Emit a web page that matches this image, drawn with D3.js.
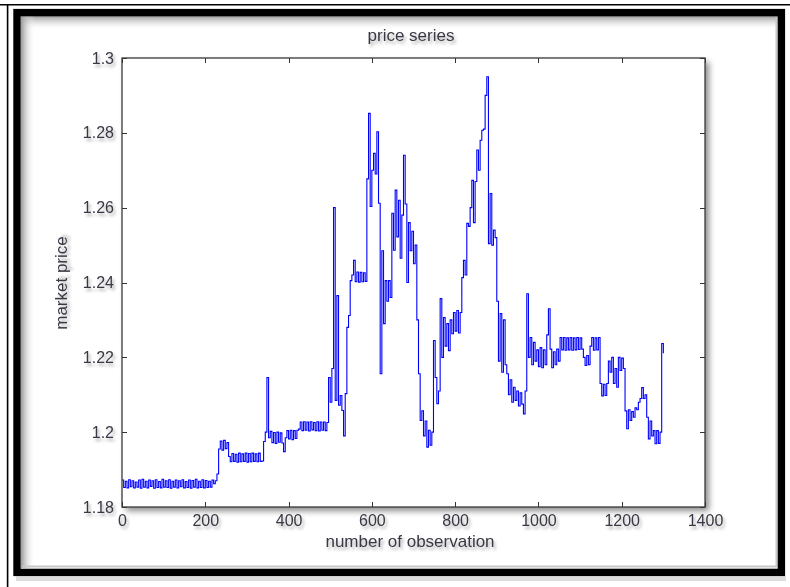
<!DOCTYPE html>
<html>
<head>
<meta charset="utf-8">
<script src="https://cdn.jsdelivr.net/npm/d3@7/dist/d3.min.js"></script>
<style>
    body { margin: 0; background: #fff; }
    .chart text { font-family: "Liberation Sans", Arial, sans-serif; fill: #3a3844; }
    .axis line { stroke: #333; shape-rendering: crispEdges; }
    .axis path { display: none; }
</style>
</head>
<body>
<svg class="chart"></svg>
<script>
    var title = "price series";
    var xLabel = "number of observation";
    var yLabel = "market price";
    var xTicks = [0, 200, 400, 600, 800, 1000, 1200, 1400];
    var yTicks = [1.18, 1.2, 1.22, 1.24, 1.26, 1.28, 1.3];
    var obsStep = 4; // one value every 4 observations

    // market price, obs 0..1300
    var price = [
        1.1872,1.1852,1.1869,1.1851,1.1873,1.1854,1.1870,1.1851,1.1867,1.1853,
        1.1872,1.1850,1.1874,1.1853,1.1869,1.1851,1.1872,1.1855,1.1870,1.1850,
        1.1873,1.1852,1.1868,1.1851,1.1874,1.1853,1.1870,1.1852,1.1873,1.1850,
        1.1869,1.1853,1.1872,1.1851,1.1870,1.1854,1.1873,1.1851,1.1868,1.1852,
        1.1872,1.1850,1.1871,1.1853,1.1874,1.1851,1.1869,1.1852,1.1873,1.1851,
        1.1871,1.1852,1.1869,1.1853,1.1872,1.1862,1.1870,1.1888,1.1955,1.1976,
        1.1952,1.1978,1.1956,1.1972,1.1935,1.1921,1.1943,1.1922,1.1941,1.1920,
        1.1944,1.1921,1.1942,1.1922,1.1944,1.1920,1.1943,1.1921,1.1944,1.1922,
        1.1942,1.1921,1.1944,1.1922,1.1923,1.1975,1.2000,1.2146,1.1985,1.2002,
        1.1972,1.1999,1.1970,1.2000,1.1973,1.1998,1.1971,1.1948,1.1985,1.2004,
        1.1982,1.2005,1.1980,1.2004,1.1983,1.2005,1.2008,1.2027,1.2004,1.2028,
        1.2005,1.2027,1.2003,1.2028,1.2006,1.2026,1.2004,1.2028,1.2003,1.2027,
        1.2005,1.2027,1.2004,1.2026,1.2146,1.2080,1.2170,1.2600,1.2085,1.2365,
        1.2072,1.2098,1.2058,1.1990,1.2103,1.2280,1.2312,1.2405,1.2420,1.2459,
        1.2402,1.2428,1.2401,1.2427,1.2402,1.2426,1.2403,1.2677,1.2852,1.2603,
        1.2700,1.2745,1.2690,1.2803,1.2612,1.2156,1.2485,1.2290,1.2405,1.2350,
        1.2405,1.2360,1.2585,1.2486,1.2647,1.2522,1.2620,1.2465,1.2580,1.2740,
        1.2610,1.2400,1.2560,1.2485,1.2537,1.2450,1.2500,1.2300,1.2156,1.2031,
        1.2057,1.1990,1.2030,1.1960,1.2005,1.1965,1.2000,1.2245,1.2146,1.2076,
        1.2110,1.2357,1.2200,1.2306,1.2230,1.2290,1.2218,1.2300,1.2263,1.2320,
        1.2270,1.2325,1.2265,1.2320,1.2413,1.2459,1.2420,1.2558,1.2550,1.2600,
        1.2673,1.2560,1.2670,1.2754,1.2700,1.2780,1.2807,1.2810,1.2900,1.2950,
        1.2504,1.2638,1.2500,1.2540,1.2520,1.2350,1.2190,1.2317,1.2160,1.2300,
        1.2180,1.2156,1.2100,1.2140,1.2080,1.2120,1.2085,1.2110,1.2070,1.2105,
        1.2075,1.2049,1.2110,1.2370,1.2200,1.2253,1.2180,1.2240,1.2190,1.2220,
        1.2175,1.2226,1.2172,1.2220,1.2180,1.2260,1.2330,1.2222,1.2172,1.2215,
        1.2180,1.2222,1.2190,1.2253,1.2220,1.2253,1.2219,1.2252,1.2220,1.2253,
        1.2219,1.2252,1.2220,1.2253,1.2221,1.2252,1.2222,1.2200,1.2178,1.2205,
        1.2180,1.2230,1.2253,1.2219,1.2252,1.2220,1.2253,1.2130,1.2097,1.2128,
        1.2098,1.2130,1.2190,1.2160,1.2200,1.2130,1.2170,1.2120,1.2200,1.2165,
        1.2198,1.2170,1.2057,1.2009,1.2060,1.2031,1.2055,1.2040,1.2065,1.2060,
        1.2080,1.2090,1.2119,1.2090,1.2100,1.2040,1.1982,1.2030,1.1990,1.2004,
        1.1969,1.2004,1.1970,1.2000,1.2237,1.2211
    ];

    var width = 790, height = 587;
    var axLeft = 122, axRight = 705, axTop = 58, axBottom = 507;

    var chart = d3.select(".chart")
        .attr("width", width)
        .attr("height", height);

    var defs = chart.append("defs");
    defs.append("filter").attr("id", "boxShadow")
        .attr("x", "-5%").attr("y", "-5%").attr("width", "115%").attr("height", "115%")
        .append("feDropShadow")
        .attr("dx", 4).attr("dy", 4).attr("stdDeviation", 3)
        .attr("flood-color", "#000").attr("flood-opacity", 0.45);
    defs.append("filter").attr("id", "textShadow")
        .attr("x", "-20%").attr("y", "-30%").attr("width", "150%").attr("height", "180%")
        .append("feDropShadow")
        .attr("dx", 2).attr("dy", 3).attr("stdDeviation", 1.6)
        .attr("flood-color", "#000").attr("flood-opacity", 0.3);
    var gTop = defs.append("linearGradient").attr("id", "shadeTop")
        .attr("x1", 0).attr("y1", 0).attr("x2", 0).attr("y2", 1);
    gTop.append("stop").attr("offset", "0%").attr("stop-color", "#9a9a9a");
    gTop.append("stop").attr("offset", "100%").attr("stop-color", "#fff").attr("stop-opacity", 0);
    var gLeft = defs.append("linearGradient").attr("id", "shadeLeft")
        .attr("x1", 0).attr("y1", 0).attr("x2", 1).attr("y2", 0);
    gLeft.append("stop").attr("offset", "0%").attr("stop-color", "#9a9a9a");
    gLeft.append("stop").attr("offset", "100%").attr("stop-color", "#fff").attr("stop-opacity", 0);

    // picture frame
    chart.append("path")
        .attr("d", "M0,4.8H790M7.6,4V587")
        .attr("fill", "none").attr("stroke", "#000").attr("stroke-width", 1.6);
    chart.append("rect")
        .attr("x", 21).attr("y", 16).attr("width", 757).attr("height", 14)
        .attr("fill", "url(#shadeTop)");
    chart.append("rect")
        .attr("x", 21).attr("y", 16).attr("width", 14).attr("height", 552)
        .attr("fill", "url(#shadeLeft)");
    chart.append("path")
        .attr("d", "M22,566.5H776.5V17")
        .attr("fill", "none").attr("stroke", "#c8c8c8").attr("stroke-width", 2);
    chart.append("rect")
        .attr("x", 17).attr("y", 12.6).attr("width", 764.4).attr("height", 559.8)
        .attr("fill", "none").attr("stroke", "#000").attr("stroke-width", 7.4);
    chart.append("rect")
        .attr("x", 16).attr("y", 576).attr("width", 770).attr("height", 5)
        .attr("fill", "#bbb").attr("opacity", 0.5);

    var x = d3.scaleLinear().domain([0, 1400]).range([axLeft, axRight]);
    var y = d3.scaleLinear().domain([1.18, 1.3]).range([axBottom, axTop]);

    // axes background with shadow
    chart.append("rect")
        .attr("x", axLeft).attr("y", axTop)
        .attr("width", axRight - axLeft).attr("height", axBottom - axTop)
        .attr("fill", "#fff")
        .attr("filter", "url(#boxShadow)");

    var fmtY = function (d) { return String(+d.toFixed(2)); };

    chart.append("g").attr("class", "axis")
        .attr("transform", "translate(0," + axBottom + ")")
        .call(d3.axisBottom(x).tickValues(xTicks).tickSizeInner(-5).tickSizeOuter(0).tickPadding(8).tickFormat(d3.format("d")))
        .selectAll("text").attr("font-size", 16).attr("filter", "url(#textShadow)");
    chart.append("g").attr("class", "axis")
        .attr("transform", "translate(0," + axTop + ")")
        .call(d3.axisTop(x).tickValues(xTicks).tickSizeInner(-5).tickSizeOuter(0).tickFormat(""));
    chart.append("g").attr("class", "axis")
        .attr("transform", "translate(" + axLeft + ",0)")
        .call(d3.axisLeft(y).tickValues(yTicks).tickSizeInner(-5).tickSizeOuter(0).tickPadding(8).tickFormat(fmtY))
        .selectAll("text").attr("font-size", 16).attr("filter", "url(#textShadow)");
    chart.append("g").attr("class", "axis")
        .attr("transform", "translate(" + axRight + ",0)")
        .call(d3.axisRight(y).tickValues(yTicks).tickSizeInner(-5).tickSizeOuter(0).tickFormat(""));

    // price line (stepped, like a dense tick-by-tick plot)
    var line = d3.line()
        .curve(d3.curveStepAfter)
        .x(function (d, i) { return x(i * obsStep); })
        .y(function (d) { return y(d); });
    chart.append("path")
        .datum(price)
        .attr("d", line)
        .attr("fill", "none")
        .attr("stroke", "#0000ff")
        .attr("stroke-width", 1.1);

    // axes box
    chart.append("rect")
        .attr("x", axLeft).attr("y", axTop)
        .attr("width", axRight - axLeft).attr("height", axBottom - axTop)
        .attr("fill", "none").attr("stroke", "#3a3a3a").attr("stroke-width", 1.3);

    chart.append("text")
        .attr("x", 411).attr("y", 41)
        .attr("text-anchor", "middle").attr("font-size", 17)
        .attr("filter", "url(#textShadow)")
        .text(title);
    chart.append("text")
        .attr("x", 410).attr("y", 547)
        .attr("text-anchor", "middle").attr("font-size", 17)
        .attr("filter", "url(#textShadow)")
        .text(xLabel);
    chart.append("text")
        .attr("transform", "translate(67,283) rotate(-90)")
        .attr("text-anchor", "middle").attr("font-size", 17)
        .attr("filter", "url(#textShadow)")
        .text(yLabel);
</script>
</body>
</html>
